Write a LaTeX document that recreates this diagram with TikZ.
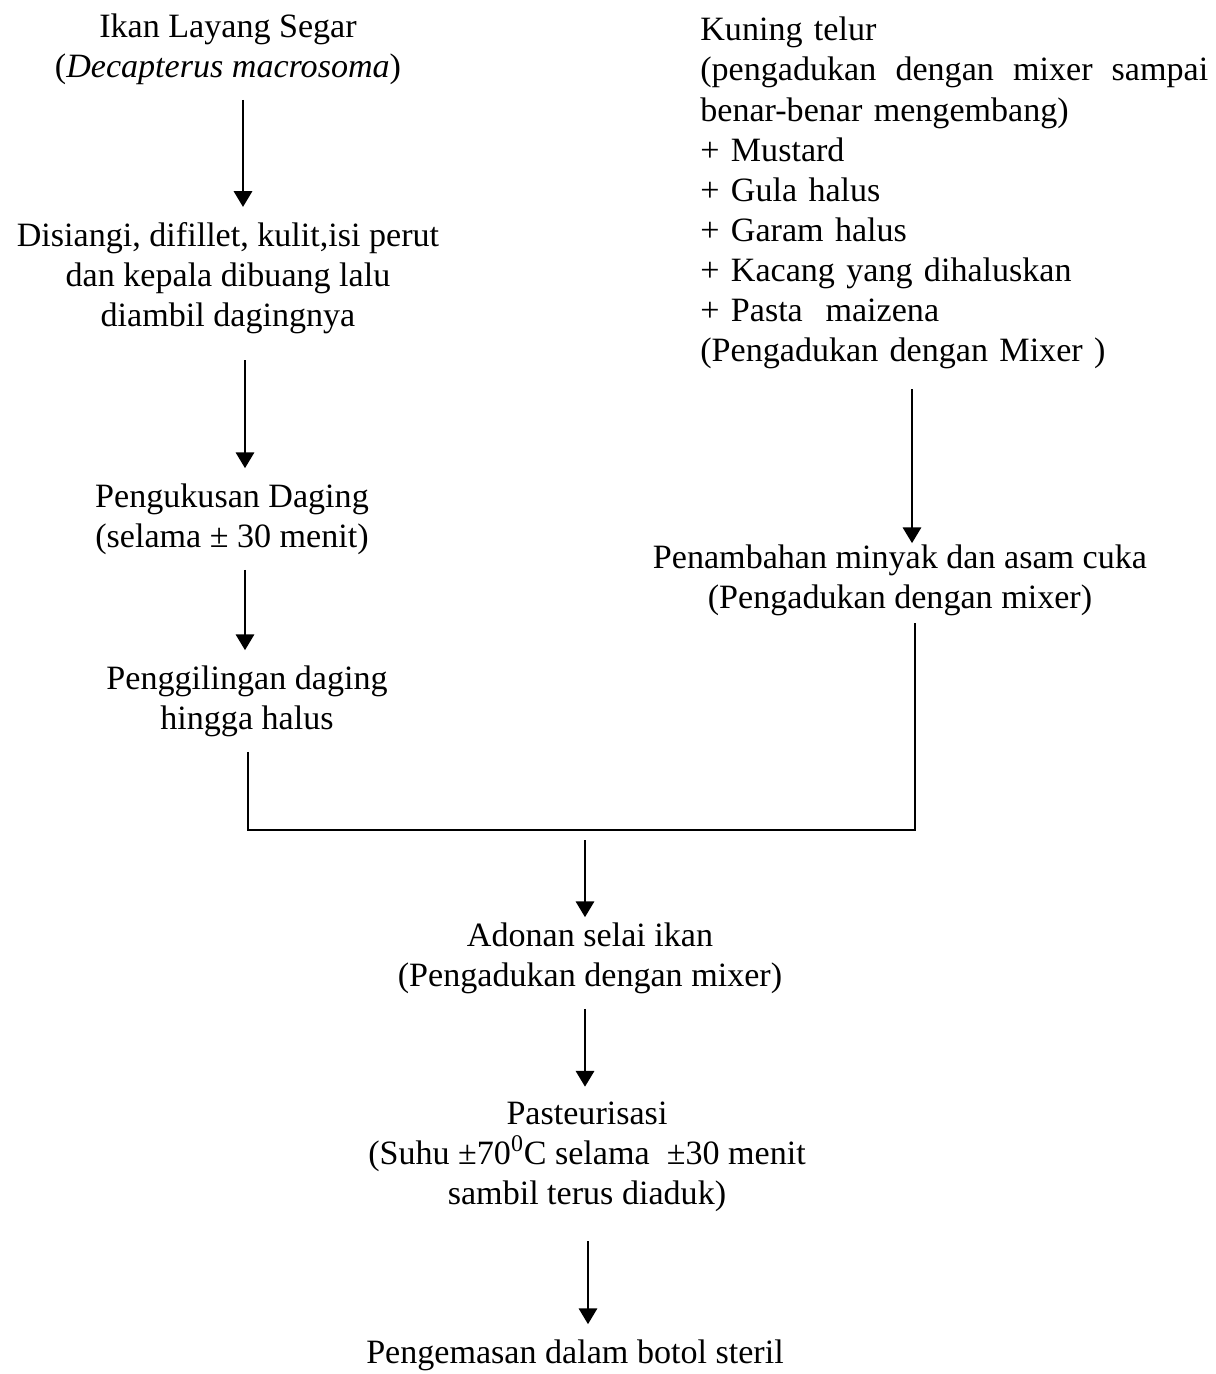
\documentclass[tikz,border=0pt]{standalone}
\usepackage{fontspec}
\setmainfont{Liberation Serif}
\usepackage{tikz}
\usetikzlibrary{arrows.meta,positioning}
\newcommand{\fsz}{\fontsize{19.4}{22.8}\selectfont}
\tikzset{
  stage/.style ={align=center, inner sep=0pt, font=\fsz},
  note/.style  ={align=left, inner sep=0pt, font=\fsz, text width=10.16cm},
  ar/.style    ={-{Triangle[length=9pt, width=10.5pt]}, line width=1.1pt,
                 shorten <=0.3cm, shorten >=0.3cm},
  ln/.style    ={line width=1.1pt}
}
\begin{document}
\begin{tikzpicture}[x=0.02cm, y=-0.02cm]
\useasboundingbox (0,0) rectangle (1216,1374);
\node[stage] (ikan) at (228,49) {Ikan Layang Segar\\({\itshape Decapterus macrosoma})};
\node[stage] (siang) at (228,278) {Disiangi, difillet, kulit,isi perut\\dan kepala dibuang lalu\\diambil dagingnya};
\node[stage] (kukus) at (232,519) {Pengukusan Daging\\(selama ± 30 menit)};
\node[stage] (giling) at (247,701) {Penggilingan daging\\hingga halus};
\node[note, anchor=west] (kuning) at (700,193)
  {Kuning telur\\
   \leavevmode\hbox to 10.16cm{(pengadukan\hfill dengan\hfill mixer\hfill sampai}\\
   benar-benar mengembang)\\
   + Mustard\\
   + Gula halus\\
   + Garam halus\\
   + Kacang yang dihaluskan\\
   + Pasta~ maizena\\
   (Pengadukan dengan Mixer )};
\node[stage] (minyak) at (900,580) {Penambahan minyak dan asam cuka\\(Pengadukan dengan mixer)};
\node[stage] (adonan) at (590,958) {Adonan selai ikan\\(Pengadukan dengan mixer)};
\node[stage] (pasteur) at (587,1157) {Pasteurisasi\\(Suhu ±70\textsuperscript{0}C selama~ ±30 menit\\sambil terus diaduk)};
\node[stage] (kemas) at (575,1355) {Pengemasan dalam botol steril};
\coordinate (gabung) at (585,830);
\draw[ar] (ikan.south -| 243,0) -- (siang.north -| 243,0);
\draw[ar, shorten <=0.52cm] (siang.south -| 245,0) -- (kukus.north -| 245,0);
\draw[ar] (kukus.south -| 245,0) -- (giling.north -| 245,0);
\draw[ar, shorten <=0.4cm, shorten >=0.02cm] (kuning.south -| 912,0) -- (minyak.north -| 912,0);
\draw[ln, shorten <=0.3cm, shorten >=0.14cm] (giling.south -| 248,0) |- (gabung) -| (minyak.south -| 915,0);
\draw[ar, shorten <=0.2cm, shorten >=0.1cm] (gabung) -- (adonan.north -| 585,0);
\draw[ar] (adonan.south -| 585,0) -- (pasteur.north -| 585,0);
\draw[ar, shorten <=0.58cm] (pasteur.south -| 588,0) -- (kemas.north -| 588,0);
\end{tikzpicture}
\end{document}
